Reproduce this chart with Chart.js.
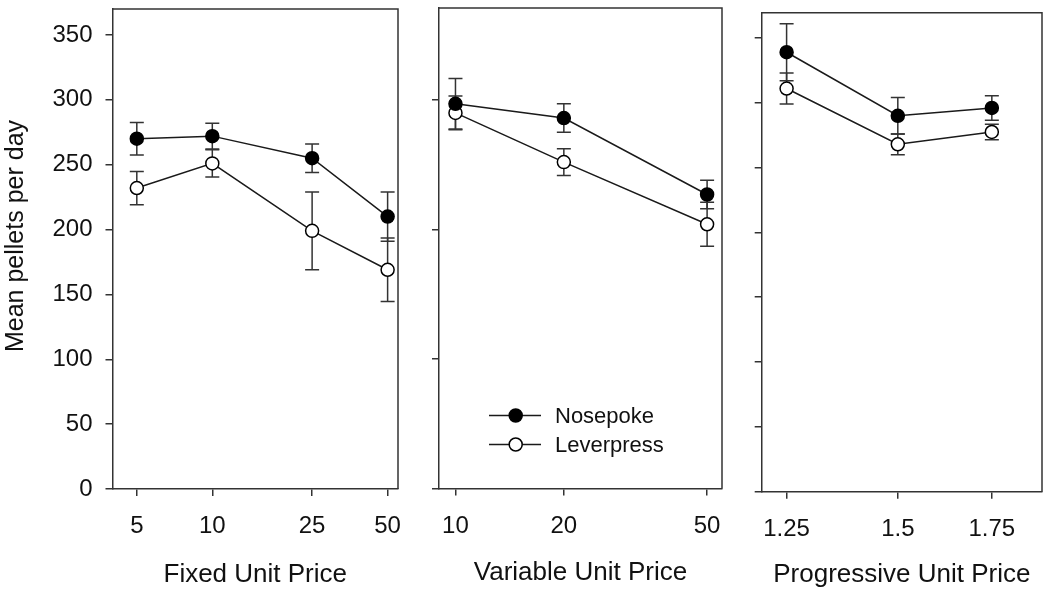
<!DOCTYPE html>
<html><head><meta charset="utf-8">
<script src="https://cdn.jsdelivr.net/npm/chart.js@4/dist/chart.umd.min.js"></script>
<style>
html,body{margin:0;padding:0;background:#fff;}
#wrap{position:relative;width:1050px;height:602px;overflow:hidden;background:#fff;}
.p{position:absolute;top:0;height:602px;}
</style></head><body>
<div id="wrap">
<div class="p" style="left:0;width:420px"><canvas id="c1"></canvas></div>
<div class="p" style="left:420px;width:320px"><canvas id="c2"></canvas></div>
<div class="p" style="left:740px;width:310px"><canvas id="c3"></canvas></div>
</div>
<script>
// ---- data ----
const seriesNames = ['Nosepoke', 'Leverpress'];
const yTitle = 'Mean pellets per day';
const yTickValues = [0, 50, 100, 150, 200, 250, 300, 350];
const yTickValuesMid = [0, 100, 200, 300];

const fixedTitle = 'Fixed Unit Price';
const fixedPrices = [5, 10, 25, 50];
const fixedNose = [270, 272, 255, 210];
const fixedNoseErr = [12.5, 10, 11, 19];
const fixedLever = [232, 251, 199, 169];
const fixedLeverErr = [12.8, 10.5, 30, 24.5];

const varTitle = 'Variable Unit Price';
const varPrices = [10, 20, 50];
const varNose = [297, 286, 227];
const varNoseErr = [19.5, 11, 11];
const varLever = [290, 252, 204];
const varLeverErr = [13, 10.3, 17];

const progTitle = 'Progressive Unit Price';
const progPrices = [1.25, 1.5, 1.75];
const progNose = [339, 290, 296];
const progNoseErr = [22, 14, 9.5];
const progLever = [311, 268, 277.5];
const progLeverErr = [12, 8, 6];

// ---- styling ----
const FONT = "'Liberation Sans', Arial, Helvetica, sans-serif";
const AX = '#333';
const LINE = '#1a1a1a';

const errorBarPlugin = {
  id: 'errbars',
  beforeDatasetsDraw(chart) {
    const ctx = chart.ctx;
    const ys = chart.scales.y;
    ctx.save();
    ctx.strokeStyle = AX;
    ctx.lineWidth = 1.5;
    chart.data.datasets.forEach((ds, i) => {
      const meta = chart.getDatasetMeta(i);
      meta.data.forEach((pt, j) => {
        const v = ds.data[j].y, e = ds.err[j];
        const yt = ys.getPixelForValue(v + e), yb = ys.getPixelForValue(v - e);
        const x = pt.x, hw = 7;
        ctx.beginPath();
        ctx.moveTo(x, yt); ctx.lineTo(x, yb);
        ctx.moveTo(x - hw, yt); ctx.lineTo(x + hw, yt);
        ctx.moveTo(x - hw, yb); ctx.lineTo(x + hw, yb);
        ctx.stroke();
      });
    });
    ctx.restore();
  }
};

const framePlugin = {
  id: 'frame',
  afterDraw(chart) {
    const a = chart.chartArea, ctx = chart.ctx;
    ctx.save();
    ctx.strokeStyle = AX;
    ctx.lineWidth = 1.5;
    ctx.beginPath();
    ctx.moveTo(a.left, a.top); ctx.lineTo(a.right, a.top); ctx.lineTo(a.right, a.bottom);
    ctx.stroke();
    ctx.restore();
  }
};

// y-axis title placed at the reference position (left of panel 1)
const yTitlePlugin = {
  id: 'yTitleText',
  afterDraw(chart, args, opts) {
    if (!opts || !opts.text) return;
    const ctx = chart.ctx;
    ctx.save();
    ctx.translate(opts.x, opts.y);
    ctx.rotate(-Math.PI / 2);
    ctx.font = '25px ' + FONT;
    ctx.fillStyle = '#111';
    ctx.textAlign = 'center';
    ctx.textBaseline = 'middle';
    ctx.fillText(opts.text, 0, 0);
    ctx.restore();
  }
};

const legendPlugin = {
  id: 'customLegend',
  afterDraw(chart, args, opts) {
    if (!opts || !opts.show) return;
    const a = chart.chartArea, ctx = chart.ctx;
    ctx.save();
    chart.data.datasets.forEach((ds, i) => {
      const y = a.bottom - 73 + i * 29;
      const x0 = a.left + 50, x1 = a.left + 102, xm = a.left + 76.7;
      ctx.strokeStyle = LINE; ctx.lineWidth = 1.5;
      ctx.beginPath(); ctx.moveTo(x0, y); ctx.lineTo(x1, y); ctx.stroke();
      ctx.beginPath(); ctx.arc(xm, y, 6.5, 0, Math.PI * 2);
      ctx.fillStyle = ds.pointBackgroundColor; ctx.fill();
      ctx.strokeStyle = '#000'; ctx.stroke();
      ctx.fillStyle = '#111';
      ctx.font = '22px ' + FONT;
      ctx.textBaseline = 'middle'; ctx.textAlign = 'left';
      ctx.fillText(ds.label, a.left + 116, y + 1);
    });
    ctx.restore();
  }
};

function makeDs(label, xs, ys, errs, fill) {
  return {
    label: label,
    data: xs.map((x, i) => ({x: x, y: ys[i]})),
    err: errs,
    borderColor: LINE,
    borderWidth: 1.5,
    pointRadius: 6.5,
    pointHoverRadius: 6.5,
    pointBorderWidth: 1.5,
    pointBorderColor: '#000',
    pointBackgroundColor: fill,
    backgroundColor: fill,
    fill: false,
    tension: 0
  };
}

function makePanel(id, c) {
  const gridOpts = {display: true, drawOnChartArea: false, drawTicks: true, tickLength: 7, color: AX, lineWidth: 1.5};
  new Chart(document.getElementById(id), {
    type: 'line',
    data: {
      datasets: [
        makeDs(seriesNames[0], c.prices, c.nose, c.noseErr, '#000'),
        makeDs(seriesNames[1], c.prices, c.lever, c.leverErr, '#fff')
      ]
    },
    options: {
      responsive: true,
      maintainAspectRatio: false,
      animation: false,
      events: [],
      layout: {padding: {top: c.padTop, right: c.padRight, left: 0, bottom: 0}},
      plugins: {
        legend: {display: false}, tooltip: {enabled: false},
        customLegend: {show: !!c.legend},
        yTitleText: c.yTitle ? {text: c.yTitle, x: 16, y: 236} : {}
      },
      scales: {
        x: {
          type: 'logarithmic',
          min: c.xMin, max: c.xMax,
          afterBuildTicks: (s) => { s.ticks = c.prices.map(v => ({value: v})); },
          afterFit: (s) => { s.height = c.xAxisHeight; s.paddingLeft = 0; s.paddingRight = 0; },
          grid: gridOpts,
          border: {display: true, color: AX, width: 1.5},
          ticks: {autoSkip: false, maxRotation: 0, padding: c.tickPad, color: '#111',
                  font: {family: FONT, size: 24}, callback: (v) => String(v)},
          title: {display: true, text: c.xTitle, color: '#111', font: {family: FONT, size: 26},
                  padding: {top: 0, bottom: c.titlePad}}
        },
        y: {
          type: 'linear',
          min: 0, max: c.yMax,
          afterBuildTicks: (s) => { s.ticks = c.yTicks.map(v => ({value: v})); },
          afterFit: (s) => { s.width = c.yAxisWidth; s.paddingTop = 0; s.paddingBottom = 0; },
          grid: gridOpts,
          border: {display: true, color: AX, width: 1.5},
          ticks: {display: !!c.yLabels, padding: 13, color: '#111', font: {family: FONT, size: 24}},
          title: {display: false}
        }
      }
    },
    plugins: [errorBarPlugin, framePlugin, legendPlugin, yTitlePlugin]
  });
}

makePanel('c1', {prices: fixedPrices, nose: fixedNose, noseErr: fixedNoseErr, lever: fixedLever, leverErr: fixedLeverErr,
  xMin: 4, xMax: 55, xTitle: fixedTitle, yTicks: yTickValues, yLabels: true, yTitle: yTitle, yMax: 370,
  yAxisWidth: 112.5, xAxisHeight: 113, padTop: 9, padRight: 22, tickPad: 16, titlePad: 11.4});

makePanel('c2', {prices: varPrices, nose: varNose, noseErr: varNoseErr, lever: varLever, leverErr: varLeverErr,
  xMin: 9, xMax: 55, xTitle: varTitle, yTicks: yTickValuesMid, yLabels: false, yMax: 371,
  yAxisWidth: 19, xAxisHeight: 113.5, padTop: 7, padRight: 18, tickPad: 16, titlePad: 13.4, legend: true});

makePanel('c3', {prices: progPrices, nose: progNose, noseErr: progNoseErr, lever: progLever, leverErr: progLeverErr,
  xMin: 1.2, xMax: 1.9, xTitle: progTitle, yTicks: yTickValues, yLabels: false, yMax: 369.5,
  yAxisWidth: 21.7, xAxisHeight: 110.3, padTop: 12.7, padRight: 5.7, tickPad: 16.5, titlePad: 11.4});
</script>
</body></html>
